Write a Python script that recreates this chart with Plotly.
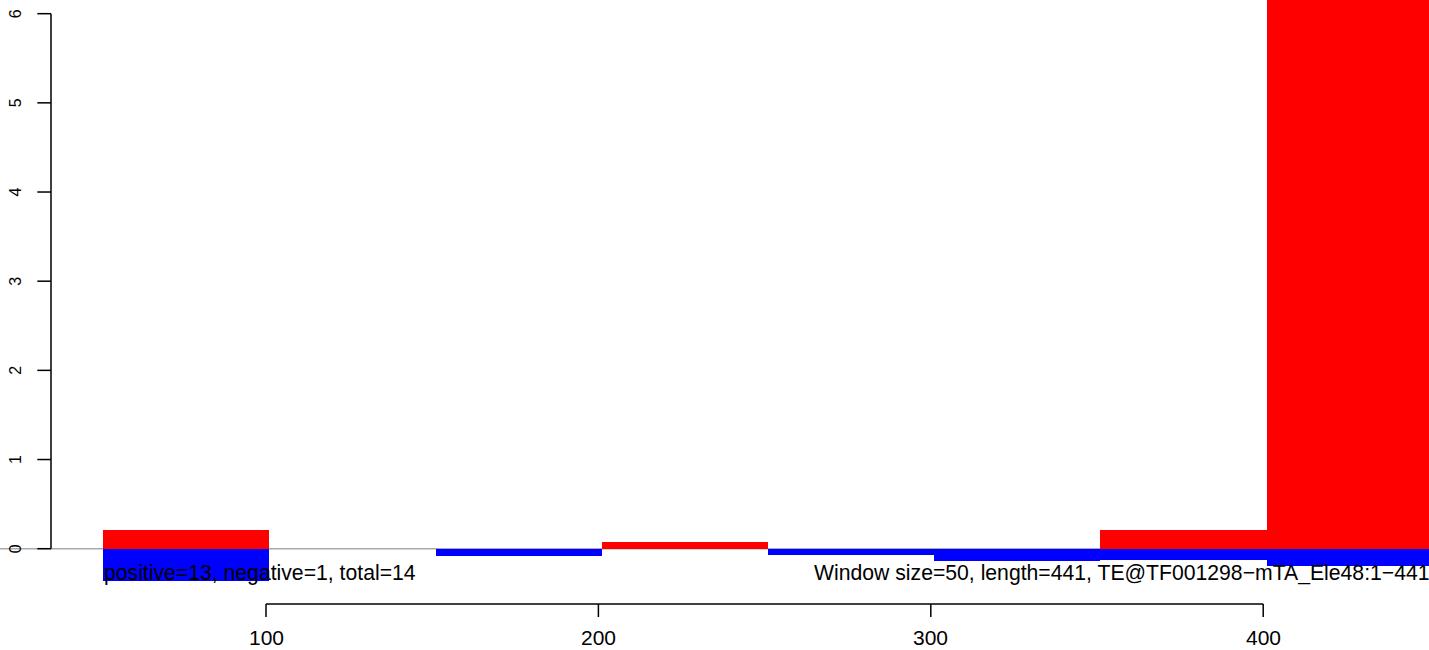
import plotly.graph_objects as go

# Window data (window size 50)
window_start = [51, 101, 151, 201, 251, 301, 351, 401]
window_size = 50
pos_vals = [0.213, 0.0, 0.0, 0.075, 0.0, 0.0, 0.213, 8.0]
neg_vals = [-0.359, 0.0, -0.0785, 0.0, -0.075, -0.142, -0.131, -0.199]
x_ticks = [100, 200, 300, 400]
y_ticks = [0, 1, 2, 3, 4, 5, 6]
left_label = "positive=13, negative=1, total=14"
right_label = "Window size=50, length=441, TE@TF001298\u2212mTA_Ele48:1\u2212441"

W, H = 1429, 650
FONT = "Liberation Sans, Arial, Helvetica, sans-serif"

centers = [s + window_size / 2 for s in window_start]

fig = go.Figure()
fig.add_trace(go.Bar(x=centers, y=pos_vals, width=window_size, base=0,
                     marker=dict(color="#FF0000", line=dict(width=0)),
                     hoverinfo="skip", showlegend=False))
fig.add_trace(go.Bar(x=centers, y=neg_vals, width=window_size, base=0,
                     marker=dict(color="#0000FF", line=dict(width=0)),
                     hoverinfo="skip", showlegend=False))

# pixel mapping: px = 3.324*x - 66.4 ; py = 548.7 - 89.17*y
XS, XO = 3.324, 66.4
YS, YO = 89.17, 548.7
x0 = XO / XS
x1 = (W + XO) / XS
y1 = YO / YS
y0 = (YO - H) / YS

shapes = []
# gray zero line
shapes.append(dict(type="line", xref="x", yref="y", x0=x0, x1=x1, y0=0, y1=0,
                   line=dict(color="#A9A9A9", width=1.5), layer="below"))
# y axis
ax_x = 51 / W
tick_x = 37.3 / W
shapes.append(dict(type="line", xref="paper", yref="y", x0=ax_x, x1=ax_x,
                   y0=y_ticks[0], y1=y_ticks[-1], line=dict(color="black", width=1.5)))
annotations = []
for t in y_ticks:
    shapes.append(dict(type="line", xref="paper", yref="y", x0=tick_x, x1=ax_x,
                       y0=t, y1=t, line=dict(color="black", width=1.5)))
    annotations.append(dict(xref="paper", yref="y", x=15.5 / W, y=t, text=str(t),
                            showarrow=False, textangle=-90, xanchor="center",
                            yanchor="middle", font=dict(family=FONT, size=16, color="black")))
# x axis
ax_y = 1 - 604 / H
tick_y = 1 - 617 / H
shapes.append(dict(type="line", xref="x", yref="paper", x0=x_ticks[0], x1=x_ticks[-1],
                   y0=ax_y, y1=ax_y, line=dict(color="black", width=1.5)))
for t in x_ticks:
    shapes.append(dict(type="line", xref="x", yref="paper", x0=t, x1=t,
                       y0=tick_y, y1=ax_y, line=dict(color="black", width=1.5)))
    annotations.append(dict(xref="x", yref="paper", x=t, y=0, text=str(t),
                            showarrow=False, xanchor="center", yanchor="bottom",
                            borderpad=0,
                            font=dict(family=FONT, size=21, color="black")))

text_y = (YO - 573) / YS
annotations.append(dict(xref="x", yref="y", x=window_start[0], y=text_y, text=left_label,
                        showarrow=False, xanchor="left", yanchor="middle", xshift=-1,
                        font=dict(family=FONT, size=21.2, color="black")))
annotations.append(dict(xref="paper", yref="y", x=1.0, y=text_y, text=right_label,
                        showarrow=False, xanchor="right", yanchor="middle", xshift=3,
                        font=dict(family=FONT, size=21.2, color="black")))

fig.update_layout(
    width=W, height=H,
    margin=dict(l=0, r=0, t=0, b=0, pad=0),
    paper_bgcolor="white", plot_bgcolor="white",
    barmode="overlay", bargap=0,
    xaxis=dict(range=[x0, x1], visible=False, fixedrange=True),
    yaxis=dict(range=[y0, y1], visible=False, fixedrange=True),
    shapes=shapes, annotations=annotations,
    showlegend=False,
)

fig.write_html("out.html", config={"displayModeBar": False},
               post_script="document.body.style.margin='0';document.body.style.overflow='hidden';")
